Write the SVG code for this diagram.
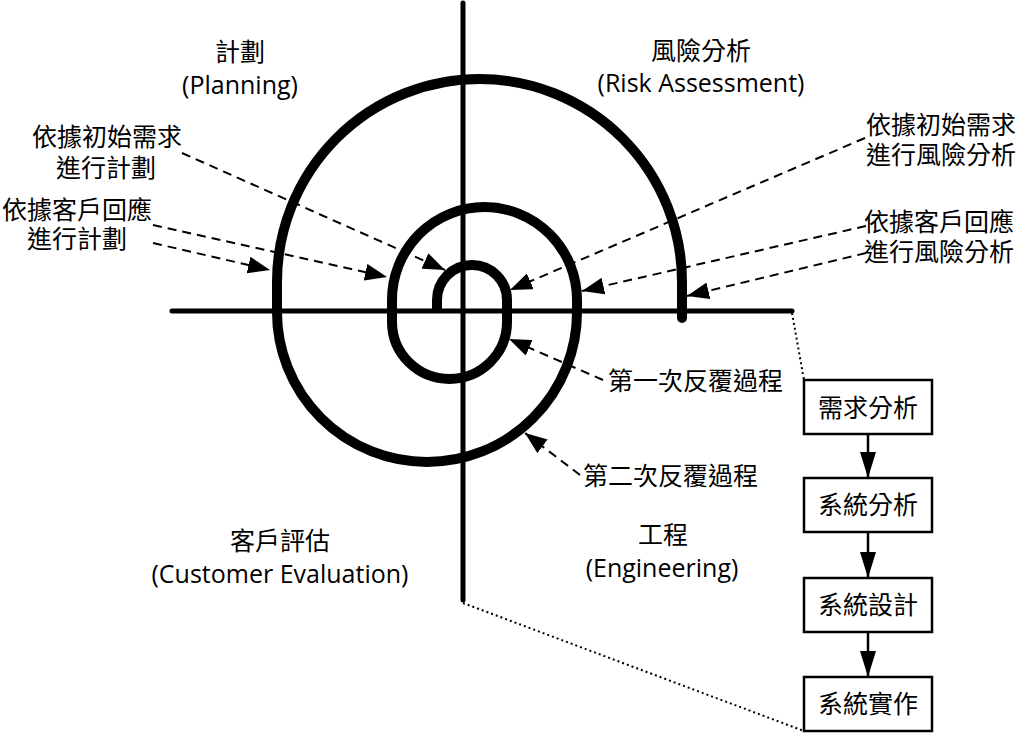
<svg xmlns="http://www.w3.org/2000/svg" width="1019" height="733" viewBox="0 0 1019 733">
  <style>
    text { font-family: "Open Sans", "Noto Sans CJK TC", sans-serif; font-size: 25px; fill: #000; }
    .c { text-anchor: middle; }
    .axis { stroke: #000; stroke-width: 5; fill: none; stroke-linecap: round; }
    .spiral { stroke: #000; stroke-width: 10; fill: none; stroke-linecap: round; stroke-linejoin: round; }
    .dash { stroke: #000; stroke-width: 2; fill: none; stroke-dasharray: 9 6; }
    .dot { stroke: #000; stroke-width: 2; fill: none; stroke-dasharray: 2 3; }
    .box { fill: #fff; stroke: #000; stroke-width: 2.5; }
    .flow { stroke: #000; stroke-width: 2.5; fill: none; }
  </style>
  <defs>
    <marker id="ah" viewBox="0 0 22 17" refX="22" refY="8.5" markerWidth="22" markerHeight="17" markerUnits="userSpaceOnUse" orient="auto">
      <path d="M0,0 L22,8.5 L0,17 z" fill="#000" stroke="none"/>
    </marker>
    <marker id="ah2" viewBox="0 0 26 16" refX="26" refY="8" markerWidth="26" markerHeight="16" markerUnits="userSpaceOnUse" orient="auto">
      <path d="M0,0 L26,8 L0,16 z" fill="#000" stroke="none"/>
    </marker>
  </defs>

  <g id="axes">
    <line class="axis" x1="172" y1="311" x2="792" y2="311"/>
    <line class="axis" x1="463" y1="3" x2="463" y2="600"/>
  </g>

  <g id="spiral">
    <path class="spiral" d="M437,308 L437,300 A35,35 0 0 1 507,300 L507,322 A57.5,57 0 0 1 392,322 L392,300 A92.5,93 0 0 1 577,300 L577,312 A150,150 0 0 1 277,312 L277,282 A202.5,203 0 0 1 682,282 L682,318"/>
  </g>

  <g id="connectors">
    <line class="dash" x1="182" y1="153" x2="445" y2="270" marker-end="url(#ah)"/>
    <line class="dash" x1="153" y1="225" x2="387" y2="277" marker-end="url(#ah)"/>
    <line class="dash" x1="153" y1="243" x2="270" y2="270" marker-end="url(#ah)"/>
    <line class="dash" x1="865" y1="138" x2="510" y2="290" marker-end="url(#ah)"/>
    <line class="dash" x1="866" y1="226" x2="582" y2="291" marker-end="url(#ah)"/>
    <line class="dash" x1="866" y1="253" x2="687" y2="296" marker-end="url(#ah)"/>
    <line class="dash" x1="603" y1="380" x2="509" y2="339" marker-end="url(#ah)"/>
    <line class="dash" x1="580" y1="475" x2="525" y2="433" marker-end="url(#ah)"/>
    <line class="dot" x1="792" y1="313" x2="804" y2="380"/>
    <line class="dot" x1="463" y1="603" x2="804" y2="731"/>
    <line class="flow" x1="868" y1="434" x2="868" y2="478" marker-end="url(#ah2)"/>
    <line class="flow" x1="868" y1="532" x2="868" y2="578" marker-end="url(#ah2)"/>
    <line class="flow" x1="868" y1="632" x2="868" y2="677" marker-end="url(#ah2)"/>
  </g>

  <g id="quadrant-planning">
    <text class="c" x="240" y="61">計劃</text>
    <text class="c" x="240" y="94">(Planning)</text>
  </g>
  <g id="quadrant-risk">
    <text class="c" x="701" y="60">風險分析</text>
    <text class="c" x="701" y="92">(Risk Assessment)</text>
  </g>
  <g id="quadrant-customer">
    <text class="c" x="280" y="550">客戶評估</text>
    <text class="c" x="280" y="583">(Customer Evaluation)</text>
  </g>
  <g id="quadrant-engineering">
    <text class="c" x="663" y="544">工程</text>
    <text class="c" x="662" y="577">(Engineering)</text>
  </g>

  <g id="label-plan-initial">
    <text class="c" x="107" y="146">依據初始需求</text>
    <text class="c" x="106" y="177">進行計劃</text>
  </g>
  <g id="label-plan-feedback">
    <text class="c" x="77" y="219">依據客戶回應</text>
    <text class="c" x="77" y="248">進行計劃</text>
  </g>
  <g id="label-risk-initial">
    <text x="866" y="134">依據初始需求</text>
    <text x="866" y="164">進行風險分析</text>
  </g>
  <g id="label-risk-feedback">
    <text x="864" y="231">依據客戶回應</text>
    <text x="864" y="261">進行風險分析</text>
  </g>
  <g id="label-iter1">
    <text x="608" y="390">第一次反覆過程</text>
  </g>
  <g id="label-iter2">
    <text x="583" y="485">第二次反覆過程</text>
  </g>

  <g id="box-req">
    <rect class="box" x="804" y="380" width="128" height="54"/>
    <text class="c" x="868" y="417">需求分析</text>
  </g>
  <g id="box-analysis">
    <rect class="box" x="804" y="478" width="128" height="54"/>
    <text class="c" x="868" y="514">系統分析</text>
  </g>
  <g id="box-design">
    <rect class="box" x="804" y="578" width="128" height="54"/>
    <text class="c" x="868" y="614">系統設計</text>
  </g>
  <g id="box-impl">
    <rect class="box" x="804" y="677" width="128" height="54"/>
    <text class="c" x="868" y="713">系統實作</text>
  </g>
</svg>
